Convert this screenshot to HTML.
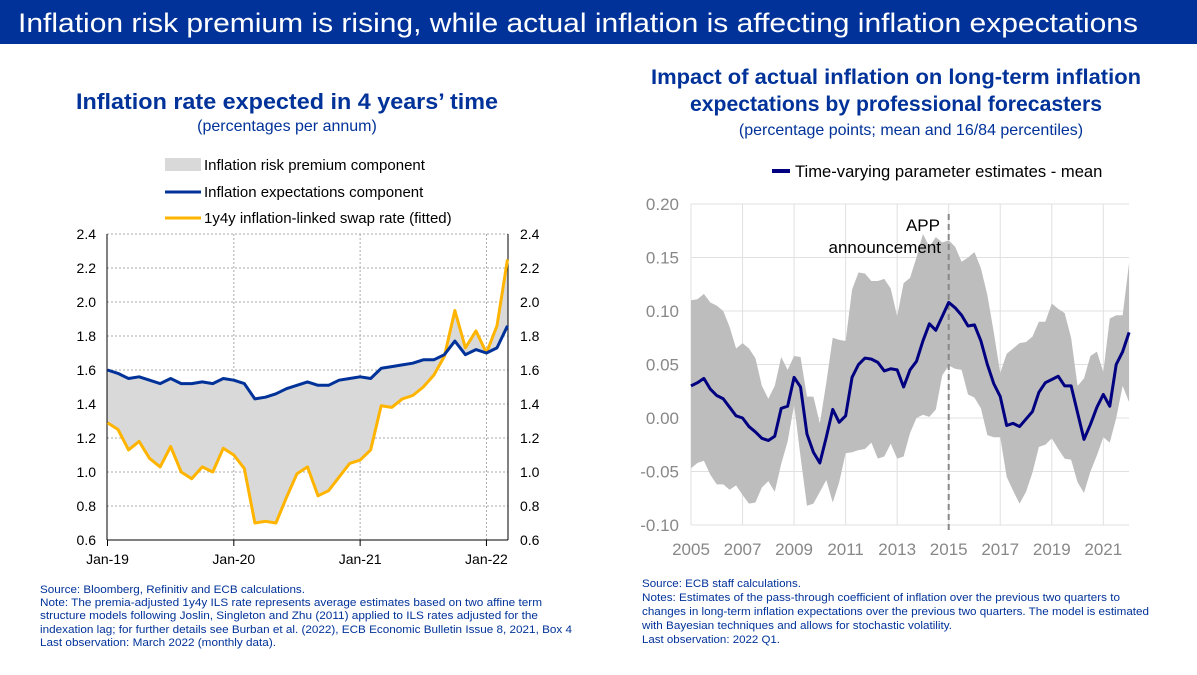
<!DOCTYPE html>
<html><head><meta charset="utf-8"><style>
body{margin:0;width:1197px;height:670px;overflow:hidden;background:#fff;font-family:"Liberation Sans",sans-serif}
svg text{font-family:"Liberation Sans",sans-serif}
</style></head><body>
<svg id="s" width="1197" height="670" xmlns="http://www.w3.org/2000/svg">
<rect x="0" y="0" width="1197" height="44" fill="#003299"/>
<text x="18" y="32" font-size="27" fill="#fff" textLength="1120" lengthAdjust="spacingAndGlyphs">Inflation risk premium is rising, while actual inflation is affecting inflation expectations</text>

<text x="287" y="109" font-size="22" font-weight="bold" fill="#003299" text-anchor="middle" textLength="422" lengthAdjust="spacingAndGlyphs">Inflation rate expected in 4 years’ time</text>
<text x="287" y="131" font-size="16" fill="#003299" text-anchor="middle">(percentages per annum)</text>
<g>
<rect x="165" y="158" width="36" height="13" fill="#d9d9d9"/>
<text x="204" y="170" font-size="15">Inflation risk premium component</text>
<line x1="165" y1="192" x2="201" y2="192" stroke="#003299" stroke-width="3"/>
<text x="204" y="197" font-size="15">Inflation expectations component</text>
<line x1="165" y1="218" x2="201" y2="218" stroke="#FFB400" stroke-width="3"/>
<text x="204" y="223" font-size="15">1y4y inflation-linked swap rate (fitted)</text>
</g>
<g id="left"></g>

<text x="896" y="84" font-size="21" font-weight="bold" fill="#003299" text-anchor="middle" textLength="490" lengthAdjust="spacingAndGlyphs">Impact of actual inflation on long-term inflation</text>
<text x="896" y="111" font-size="21" font-weight="bold" fill="#003299" text-anchor="middle" textLength="412" lengthAdjust="spacingAndGlyphs">expectations by professional forecasters</text>
<text x="911" y="135" font-size="16" fill="#003299" text-anchor="middle">(percentage points; mean and 16/84 percentiles)</text>
<g>
<line x1="772" y1="171" x2="790" y2="171" stroke="#000080" stroke-width="4"/>
<text x="795" y="177" font-size="16.6">Time-varying parameter estimates - mean</text>
</g>
<g id="right"></g>

<g font-size="11" fill="#003299">
<text x="40" y="593" textLength="265" lengthAdjust="spacingAndGlyphs">Source: Bloomberg, Refinitiv and ECB calculations.</text>
<text x="40" y="606" textLength="502" lengthAdjust="spacingAndGlyphs">Note: The premia-adjusted 1y4y ILS rate represents average estimates based on two affine term</text>
<text x="40" y="619" textLength="498" lengthAdjust="spacingAndGlyphs">structure models following Joslin, Singleton and Zhu (2011) applied to ILS rates adjusted for the</text>
<text x="40" y="633" textLength="532" lengthAdjust="spacingAndGlyphs">indexation lag; for further details see Burban et al. (2022), ECB Economic Bulletin Issue 8, 2021, Box 4</text>
<text x="40" y="646" textLength="236" lengthAdjust="spacingAndGlyphs">Last observation: March 2022 (monthly data).</text>
</g>
<g font-size="11" fill="#003299">
<text x="642" y="587" textLength="159" lengthAdjust="spacingAndGlyphs">Source: ECB staff calculations.</text>
<text x="642" y="601" textLength="478" lengthAdjust="spacingAndGlyphs">Notes: Estimates of the pass-through coefficient of inflation over the previous two quarters to</text>
<text x="642" y="615" textLength="507" lengthAdjust="spacingAndGlyphs">changes in long-term inflation expectations over the previous two quarters. The model is estimated</text>
<text x="642" y="629" textLength="310" lengthAdjust="spacingAndGlyphs">with Bayesian techniques and allows for stochastic volatility.</text>
<text x="642" y="643" textLength="138" lengthAdjust="spacingAndGlyphs">Last observation: 2022 Q1.</text>
</g>
</svg>
<script>
const NS="http://www.w3.org/2000/svg";
// Left chart data (monthly Jan-19 .. Mar-22)
const leftTicks=[0.6,0.8,1.0,1.2,1.4,1.6,1.8,2.0,2.2,2.4];
const leftXLabels=["Jan-19","Jan-20","Jan-21","Jan-22"];
const expectations=[1.60,1.58,1.55,1.56,1.54,1.52,1.55,1.52,1.52,1.53,1.52,1.55,1.54,1.52,1.43,1.44,1.46,1.49,1.51,1.53,1.51,1.51,1.54,1.55,1.56,1.55,1.61,1.62,1.63,1.64,1.66,1.66,1.69,1.77,1.69,1.72,1.70,1.73,1.86];
const swapRate=[1.29,1.25,1.13,1.18,1.08,1.03,1.15,1.00,0.96,1.03,1.00,1.14,1.10,1.02,0.70,0.71,0.70,0.85,0.99,1.03,0.86,0.89,0.97,1.05,1.07,1.13,1.39,1.38,1.43,1.45,1.50,1.57,1.68,1.95,1.73,1.83,1.70,1.86,2.25];
// Right chart data (quarterly 2005Q1 .. 2022Q1)
const rightTicks=[-0.10,-0.05,0.00,0.05,0.10,0.15,0.20];
const rightYears=[2005,2007,2009,2011,2013,2015,2017,2019,2021];
const meanEst=[0.030,0.033,0.037,0.027,0.021,0.018,0.010,0.002,0.000,-0.008,-0.013,-0.019,-0.021,-0.017,0.009,0.011,0.038,0.029,-0.015,-0.032,-0.042,-0.018,0.008,-0.004,0.002,0.038,0.050,0.056,0.055,0.052,0.044,0.046,0.045,0.029,0.045,0.053,0.072,0.088,0.082,0.095,0.108,0.103,0.096,0.086,0.087,0.072,0.050,0.032,0.020,-0.007,-0.005,-0.008,-0.001,0.006,0.024,0.033,0.036,0.039,0.030,0.030,0.005,-0.020,-0.006,0.010,0.022,0.011,0.050,0.062,0.080];
const upper84=[0.110,0.111,0.116,0.108,0.105,0.100,0.085,0.065,0.070,0.065,0.056,0.030,0.018,0.030,0.057,0.045,0.058,0.057,0.020,0.020,-0.005,0.033,0.075,0.073,0.072,0.120,0.136,0.135,0.128,0.128,0.130,0.121,0.095,0.126,0.131,0.150,0.172,0.160,0.169,0.164,0.166,0.160,0.146,0.150,0.155,0.140,0.115,0.080,0.042,0.060,0.065,0.070,0.071,0.076,0.090,0.090,0.107,0.102,0.098,0.075,0.030,0.037,0.058,0.062,0.043,0.093,0.096,0.096,0.145];
const lower16=[-0.047,-0.042,-0.040,-0.053,-0.062,-0.062,-0.067,-0.063,-0.072,-0.080,-0.079,-0.065,-0.059,-0.069,-0.043,-0.022,0.012,-0.036,-0.082,-0.080,-0.069,-0.058,-0.079,-0.060,-0.033,-0.032,-0.030,-0.029,-0.023,-0.038,-0.036,-0.024,-0.038,-0.036,-0.014,0.000,0.003,0.001,0.008,0.040,0.049,0.046,0.045,0.022,0.019,0.009,-0.016,-0.018,-0.018,-0.055,-0.068,-0.080,-0.069,-0.051,-0.027,-0.025,-0.019,-0.029,-0.038,-0.039,-0.060,-0.070,-0.050,-0.035,-0.018,-0.023,0.000,0.030,0.015];

function mk(tag,attrs,parent){const e=document.createElementNS(NS,tag);for(const k in attrs)e.setAttribute(k,attrs[k]);parent.appendChild(e);return e;}

// LEFT
const L=document.getElementById('left');
const lx=i=>107.5+i*(400/38);
const ly=v=>540-(v-0.6)/1.8*306;
leftTicks.forEach(t=>{
  if(t>0.61){const g=mk('line',{x1:107,x2:508,y1:ly(t),y2:ly(t),stroke:'#aaa','stroke-dasharray':'2,2','stroke-width':1},L);
  
  }
  const a=mk('text',{x:96,y:ly(t)+5,'font-size':14,'text-anchor':'end'},L);a.textContent=t.toFixed(1);
  
  
  const b=mk('text',{x:520,y:ly(t)+5,'font-size':14},L);b.textContent=t.toFixed(1);
  
  
});
leftXLabels.forEach((s,k)=>{
  const x=lx(k*12);
  if(k>0){const g=mk('line',{x1:x,x2:x,y1:234,y2:540,stroke:'#aaa','stroke-dasharray':'2,2'},L);
  
  }
  mk('line',{x1:x,x2:x,y1:540,y2:546,stroke:'#000'},L);
  const t=mk('text',{x:x,y:564,'font-size':14,'text-anchor':'middle'},L);t.textContent=s;
  
  
});
let area=expectations.map((v,i)=>lx(i)+','+ly(v)).join(' ')+' '+swapRate.map((v,i)=>lx(i)+','+ly(v)).reverse().join(' ');
const ap=mk('polygon',{points:area,fill:'#d9d9d9'},L);


mk('line',{x1:107,x2:107,y1:234,y2:540,stroke:'#000'},L);
mk('line',{x1:508,x2:508,y1:234,y2:540,stroke:'#000'},L);
mk('line',{x1:107,x2:508,y1:540,y2:540,stroke:'#000'},L);
const sl=mk('polyline',{points:swapRate.map((v,i)=>lx(i)+','+ly(v)).join(' '),fill:'none',stroke:'#FFB400','stroke-width':3,'stroke-linejoin':'round'},L);


const el=mk('polyline',{points:expectations.map((v,i)=>lx(i)+','+ly(v)).join(' '),fill:'none',stroke:'#003299','stroke-width':3,'stroke-linejoin':'round'},L);



// RIGHT
const R=document.getElementById('right');
const yr=25.77;
const rx=i=>691+(i/4)*yr;
const ryr=y=>691+(y-2005)*yr;
const ry=v=>525-(v+0.10)/0.30*321;
rightTicks.forEach(t=>{
  const g=mk('line',{x1:691,x2:1129,y1:ry(t),y2:ry(t),stroke:'#e0e0e0','stroke-width':1},R);
  
  
  const a=mk('text',{x:679,y:ry(t)+6,'font-size':17,fill:'#888','text-anchor':'end'},R);a.textContent=t.toFixed(2);
  
  
});
rightYears.forEach(y=>{
  const x=ryr(y);
  const g=mk('line',{x1:x,x2:x,y1:204,y2:525,stroke:'#e0e0e0'},R);
  
  
  const t=mk('text',{x:x,y:555,'font-size':17,fill:'#888','text-anchor':'middle'},R);t.textContent=y;
  
  
});
const band=upper84.map((v,i)=>rx(i)+','+ry(v)).join(' ')+' '+lower16.map((v,i)=>rx(i)+','+ry(v)).reverse().join(' ');
const bp=mk('polygon',{points:band,fill:'#bdbdbd'},R);


const dl=mk('line',{x1:ryr(2015),x2:ryr(2015),y1:214,y2:532,stroke:'#888','stroke-width':2,'stroke-dasharray':'6,4'},R);


const t1=mk('text',{x:940,y:231,'font-size':17,'text-anchor':'end'},R);t1.textContent='APP';


const t2=mk('text',{x:941,y:253,'font-size':17,'text-anchor':'end'},R);t2.textContent='announcement';


const ml=mk('polyline',{points:meanEst.map((v,i)=>rx(i)+','+ry(v)).join(' '),fill:'none',stroke:'#000080','stroke-width':3,'stroke-linejoin':'round'},R);


</script>
</body></html>
